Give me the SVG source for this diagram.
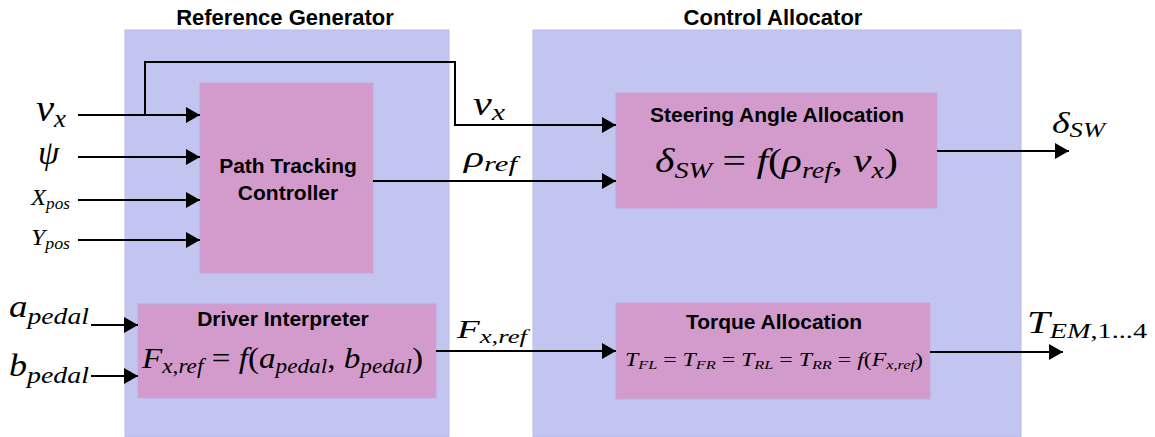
<svg xmlns="http://www.w3.org/2000/svg" width="1155" height="437" viewBox="0 0 1155 437">
<style>
.cont{fill:#c3c5f1;stroke:#b9bce9;stroke-width:1}
.blk{fill:#d39bcc;stroke:#c4a6dc;stroke-width:1}
.ttl{font-family:"Liberation Sans",Arial,sans-serif;font-weight:bold;font-size:22px;fill:#000;text-anchor:middle}
.bt{font-family:"Liberation Sans",Arial,sans-serif;font-weight:bold;font-size:21px;fill:#000;text-anchor:middle}
.m{font-family:"Liberation Serif","Times New Roman",serif;font-style:italic;fill:#000}
.n{font-style:normal}
.wire{fill:none;stroke:#000;stroke-width:2}
</style>
<defs>
<marker id="arr" markerUnits="userSpaceOnUse" markerWidth="14" markerHeight="16" refX="14" refY="8" orient="auto">
<path d="M0,0 L14,8 L0,16 Z" fill="#000"/>
</marker>
</defs>

<g id="reference-generator">
<rect class="cont" x="125" y="30" width="324" height="407"/>
<text class="ttl" x="285" y="25">Reference Generator</text>
</g>
<g id="control-allocator">
<rect class="cont" x="533" y="30" width="488" height="407"/>
<text class="ttl" x="773" y="25">Control Allocator</text>
</g>

<g id="path-tracking-controller">
<rect class="blk" x="200" y="83" width="173" height="190"/>
<text class="bt" x="288" y="173">Path Tracking</text>
<text class="bt" x="288" y="200">Controller</text>
</g>

<g id="driver-interpreter">
<rect class="blk" x="138" y="304" width="298" height="94"/>
<text class="bt" x="283" y="326">Driver Interpreter</text>
<text class="m" x="142" y="368" font-size="30" textLength="281" lengthAdjust="spacingAndGlyphs">F<tspan font-size="21" dy="5">x<tspan class="n">,</tspan>ref</tspan><tspan class="n" dy="-5"> = </tspan>f<tspan class="n">(</tspan>a<tspan font-size="21" dy="5">pedal</tspan><tspan class="n" dy="-5">, </tspan>b<tspan font-size="21" dy="5">pedal</tspan><tspan class="n" dy="-5">)</tspan></text>
</g>

<g id="steering-angle-allocation">
<rect class="blk" x="616" y="93" width="321" height="115"/>
<text class="bt" x="777" y="122">Steering Angle Allocation</text>
<text class="m" x="655" y="172" font-size="34" textLength="243" lengthAdjust="spacingAndGlyphs">δ<tspan font-size="23" dy="6">SW</tspan><tspan class="n" dy="-6"> = </tspan>f<tspan class="n">(</tspan>ρ<tspan font-size="23" dy="6">ref</tspan><tspan class="n" dy="-6">, </tspan>v<tspan font-size="23" dy="6">x</tspan><tspan class="n" dy="-6">)</tspan></text>
</g>

<g id="torque-allocation">
<rect class="blk" x="616" y="303" width="314" height="96"/>
<text class="bt" x="774" y="329">Torque Allocation</text>
<text class="m" x="625" y="366" font-size="19" textLength="298" lengthAdjust="spacingAndGlyphs">T<tspan font-size="13" dy="3">FL</tspan><tspan class="n" dy="-3"> = </tspan>T<tspan font-size="13" dy="3">FR</tspan><tspan class="n" dy="-3"> = </tspan>T<tspan font-size="13" dy="3">RL</tspan><tspan class="n" dy="-3"> = </tspan>T<tspan font-size="13" dy="3">RR</tspan><tspan class="n" dy="-3"> = </tspan>f<tspan class="n">(</tspan>F<tspan font-size="13" dy="3">x<tspan class="n">,</tspan>ref</tspan><tspan class="n" dy="-3">)</tspan></text>
</g>

<g id="connectors">
<path class="wire" d="M78,115 H200" marker-end="url(#arr)"/>
<path class="wire" d="M78,157 H200" marker-end="url(#arr)"/>
<path class="wire" d="M78,200 H200" marker-end="url(#arr)"/>
<path class="wire" d="M78,240 H200" marker-end="url(#arr)"/>
<path class="wire" d="M145,115 V62 H455 V125 H616" marker-end="url(#arr)"/>
<path class="wire" d="M373,181 H616" marker-end="url(#arr)"/>
<path class="wire" d="M91,325 H138" marker-end="url(#arr)"/>
<path class="wire" d="M91,376 H138" marker-end="url(#arr)"/>
<path class="wire" d="M436,351 H616" marker-end="url(#arr)"/>
<path class="wire" d="M937,151 H1069" marker-end="url(#arr)"/>
<path class="wire" d="M930,352 H1063" marker-end="url(#arr)"/>
</g>

<g id="labels">
<text class="m" x="36" y="121" font-size="38" textLength="30" lengthAdjust="spacingAndGlyphs">v<tspan font-size="25" dy="6">x</tspan></text>
<text class="m" x="38" y="164" font-size="34">ψ</text>
<text class="m" x="31" y="205" font-size="23" textLength="39" lengthAdjust="spacingAndGlyphs">X<tspan font-size="16" dy="4">pos</tspan></text>
<text class="m" x="31" y="245" font-size="23" textLength="39" lengthAdjust="spacingAndGlyphs">Y<tspan font-size="16" dy="4">pos</tspan></text>
<text class="m" x="9" y="317" font-size="32" textLength="80" lengthAdjust="spacingAndGlyphs">a<tspan font-size="24" dy="7">pedal</tspan></text>
<text class="m" x="9" y="376" font-size="31" textLength="80" lengthAdjust="spacingAndGlyphs">b<tspan font-size="24" dy="7">pedal</tspan></text>
<text class="m" x="473" y="115" font-size="34" textLength="32" lengthAdjust="spacingAndGlyphs">v<tspan font-size="24" dy="5">x</tspan></text>
<text class="m" x="464" y="167" font-size="30" textLength="53" lengthAdjust="spacingAndGlyphs">ρ<tspan font-size="22" dy="4">ref</tspan></text>
<text class="m" x="457" y="338" font-size="25" textLength="70" lengthAdjust="spacingAndGlyphs">F<tspan font-size="18" dy="5">x<tspan class="n">,</tspan>ref</tspan></text>
<text class="m" x="1052" y="133" font-size="30" textLength="53" lengthAdjust="spacingAndGlyphs">δ<tspan font-size="21" dy="4">SW</tspan></text>
<text class="m" x="1027" y="333" font-size="32" textLength="120" lengthAdjust="spacingAndGlyphs">T<tspan font-size="22" dy="5">EM<tspan class="n">,1...4</tspan></tspan></text>
</g>
</svg>
